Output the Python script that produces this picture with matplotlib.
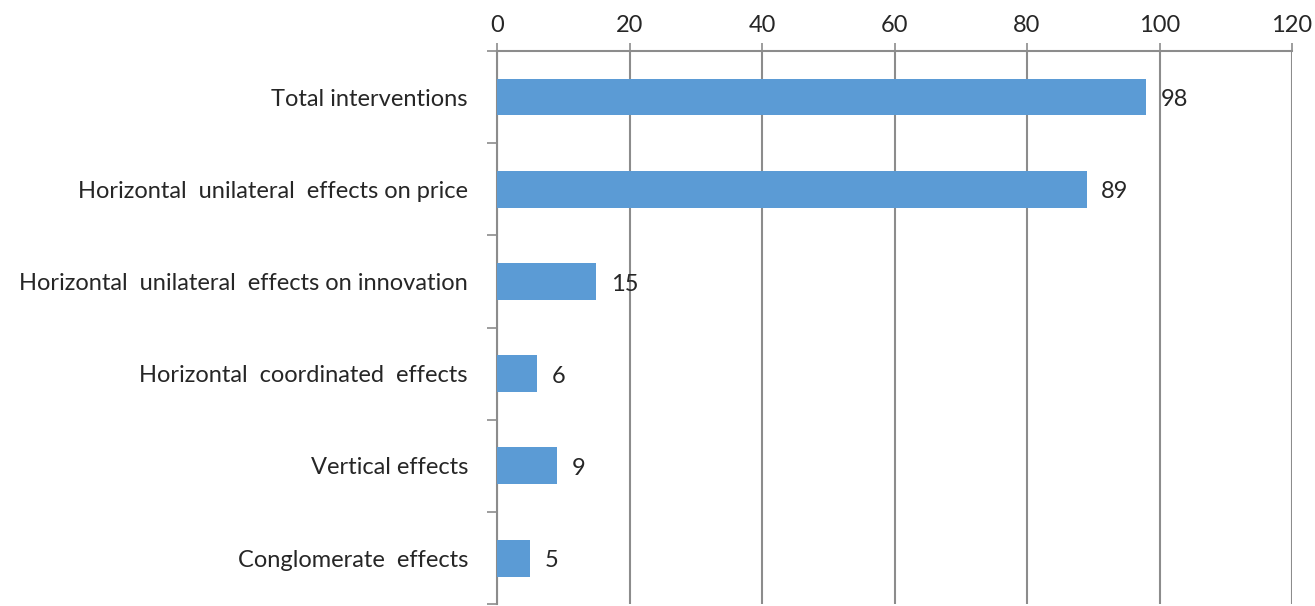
import numpy as np
import matplotlib
matplotlib.use("Agg")
import matplotlib.pyplot as plt

categories = ["Total interventions",
              "Horizontal  unilateral  effects on price",
              "Horizontal  unilateral  effects on innovation",
              "Horizontal  coordinated  effects",
              "Vertical effects",
              "Conglomerate  effects"]
values = [98, 89, 15, 6, 9, 5]
xticks = [0, 20, 40, 60, 80, 100, 120]

plt.rcParams['font.family'] = ['Lato', 'DejaVu Sans']
grey = '#8c8c8c'
fs = 17

fig = plt.figure(figsize=(13.15, 6.06), dpi=100)
ax = fig.add_axes([0.378, 0.003, 0.6045, 0.913])

y = np.arange(len(categories))
ax.barh(y, values, height=0.4, color='#5b9bd5', zorder=3)
for yi, v in zip(y, values):
    ax.text(v + 2.2, yi + 0.03, str(v), va='center', ha='left', fontsize=fs, color='#262626', zorder=4)

ax.set_xlim(0, 120)
ax.set_ylim(len(categories) - 0.5, -0.5)
ax.xaxis.tick_top()
ax.set_xticks(xticks)
ax.tick_params(axis='x', direction='out', length=6, color=grey, width=1.2,
               labelsize=fs, labelcolor='#262626', pad=5)
ax.grid(axis='x', color=grey, linewidth=1.5, zorder=0)

ax.set_yticks(y)
ax.set_yticklabels(categories)
ax.set_yticks(np.arange(-0.5, len(categories), 1), minor=True)
ax.tick_params(axis='y', which='major', length=0, labelsize=fs, labelcolor='#262626', pad=21)
ax.tick_params(axis='y', which='minor', direction='out', length=7, color=grey, width=1.2)

for s in ['right', 'bottom']:
    ax.spines[s].set_visible(False)
for s in ['top', 'left']:
    ax.spines[s].set_color(grey)
    ax.spines[s].set_linewidth(1.5)

fig.savefig("out.png", dpi=100)
